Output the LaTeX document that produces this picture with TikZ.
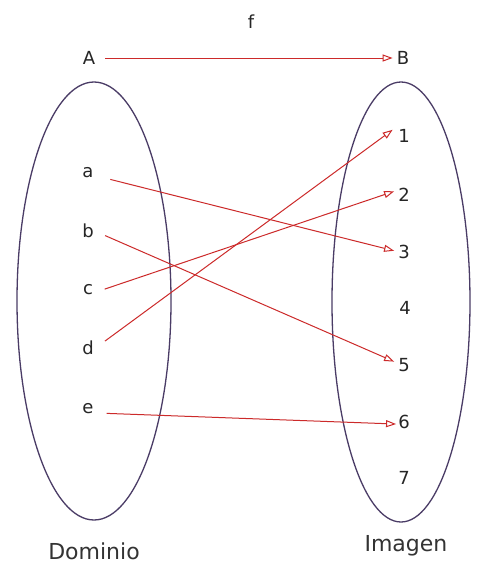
\documentclass[tikz,border=0pt]{standalone}
\usepackage{fontspec}
\setmainfont{DejaVu Sans}
\usetikzlibrary{arrows.meta,shapes.geometric}
\definecolor{fred}{HTML}{CC2A2A}
\definecolor{ellc}{HTML}{4A3C66}
\tikzset{
  lbl/.style={font=\fontsize{18}{20}\selectfont, text=black!85, inner sep=3pt},
  big/.style={font=\fontsize{22}{24}\selectfont, text=black!80, inner sep=2pt},
  fn/.style={draw=fred, line width=1pt, -{Triangle[open, length=10pt, width=7pt]}},
  setell/.style={draw=ellc, line width=1.3pt, ellipse, inner sep=0pt}
}
\begin{document}
\begin{tikzpicture}[x=1pt,y=-1pt]
\useasboundingbox[fill=white] (0,0) rectangle (477,571);
% ellipses
\node[setell, minimum width=154pt, minimum height=438pt] (dom) at (94,301) {};
\node[setell, minimum width=138pt, minimum height=440pt] (img) at (401,302) {};
% titles
\node[lbl] (A) at (89,58) {A};
\node[lbl] (B) at (403,58) {B};
\node[lbl] (f) at (251,22) {f};
\node[big] (dlabel) at (94,551) {Dominio};
\node[big] (ilabel) at (406,546) {Imagen};
% domain elements
\node[lbl] (a) at (88,173) {a};
\node[lbl] (b) at (88,231) {b};
\node[lbl] (c) at (88,290) {c};
\node[lbl] (d) at (88,348) {d};
\node[lbl] (e) at (88,409) {e};
% image elements
\node[lbl] (n1) at (404,136) {1};
\node[lbl] (n2) at (404,195) {2};
\node[lbl] (n3) at (404,252) {3};
\node[lbl] (n4) at (405,308) {4};
\node[lbl] (n5) at (404,365) {5};
\node[lbl] (n6) at (404,422) {6};
\node[lbl] (n7) at (404,478) {7};
% arrows
\draw[fn, shorten <=7pt, shorten >=1pt] (A.east) -- (B.west);
\draw[fn, shorten <=14pt, shorten >=1pt] ([yshift=-3pt]a.east) -- ([yshift=1pt]n3.west);
\draw[fn, shorten <=9pt, shorten >=1pt] ([yshift=-1pt]b.east) -- ([yshift=3pt]n5.west);
\draw[fn, shorten <=9pt, shorten >=1pt] ([yshift=-2pt]c.east) -- ([yshift=4pt]n2.west);
\draw[fn, shorten <=10pt, shorten >=3pt] ([yshift=1pt]d.east) -- ([yshift=8pt]n1.west);
\draw[fn, shorten <=10pt, shorten >=-1pt] ([yshift=-4pt]e.east) -- ([yshift=-2pt]n6.west);
\end{tikzpicture}
\end{document}
